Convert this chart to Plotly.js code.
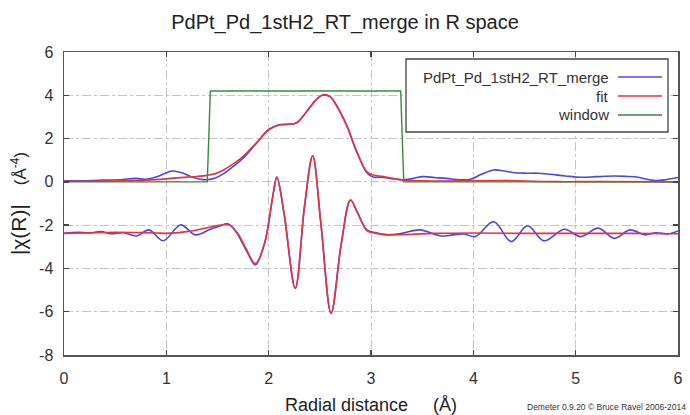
<!DOCTYPE html>
<html>
<head>
<meta charset="utf-8">
<script src="https://cdn.plot.ly/plotly-3.0.1.min.js"></script>
<style>html,body{margin:0;padding:0;background:#fff;}#chart{width:690px;height:415px;}</style>
</head>
<body>
<div id="chart"></div>
<script>
// ---- data ----
const seriesNames = ["PdPt_Pd_1stH2_RT_merge", "fit", "window"];

// |chi(R)| of the data
const magDataR = [0.0,0.2,0.4,0.55,0.7,0.8,0.9,1.0,1.06,1.15,1.25,1.33,1.40,1.48,1.56,1.65,1.75,1.875,2.0,2.10,2.20,2.27,2.37,2.46,2.53,2.60,2.66,2.76,2.86,2.96,3.02,3.10,3.20,3.31,3.40,3.51,3.62,3.74,3.87,3.97,4.08,4.20,4.30,4.40,4.52,4.63,4.75,4.90,5.05,5.20,5.38,5.50,5.61,5.70,5.78,5.88,6.0];
const magDataY = [0.05,0.05,0.08,0.10,0.16,0.12,0.22,0.42,0.50,0.42,0.22,0.12,0.10,0.18,0.38,0.70,1.10,1.75,2.40,2.63,2.66,2.72,3.24,3.78,4.01,3.94,3.55,2.63,1.40,0.42,0.22,0.22,0.15,0.09,0.15,0.24,0.20,0.16,0.10,0.12,0.35,0.55,0.50,0.42,0.40,0.40,0.35,0.27,0.21,0.24,0.27,0.25,0.21,0.12,0.06,0.10,0.20];

// |chi(R)| of the fit
const magFitR = [0.0,0.3,0.6,0.8,1.0,1.2,1.3,1.40,1.48,1.56,1.65,1.75,1.875,2.0,2.10,2.20,2.27,2.37,2.46,2.53,2.60,2.66,2.76,2.86,2.96,3.02,3.12,3.25,3.35,3.5,3.7,4.0,4.3,4.5,4.8,5.2,6.0];
const magFitY = [0.03,0.03,0.05,0.08,0.14,0.22,0.25,0.30,0.38,0.55,0.82,1.18,1.78,2.42,2.64,2.66,2.72,3.24,3.78,4.01,3.94,3.55,2.63,1.40,0.46,0.32,0.25,0.13,0.07,0.05,0.04,0.05,0.06,0.04,0.01,0.01,0.0];

// Re[chi(R)] of the data (offset)
const reDataR = [0.0,0.14,0.25,0.36,0.46,0.58,0.71,0.83,0.97,1.14,1.285,1.43,1.52,1.60,1.68,1.78,1.87,1.96,2.04,2.08,2.15,2.26,2.35,2.43,2.51,2.61,2.71,2.80,2.87,2.96,3.05,3.15,3.30,3.48,3.68,3.80,3.91,4.02,4.20,4.37,4.53,4.69,4.89,5.05,5.22,5.38,5.53,5.68,5.78,5.91,6.0];
const reDataY = [-2.38,-2.33,-2.36,-2.30,-2.40,-2.35,-2.50,-2.22,-2.72,-1.99,-2.45,-2.19,-2.05,-1.94,-2.30,-3.15,-3.84,-2.84,-0.68,0.22,-1.45,-4.92,-1.14,1.20,-1.91,-6.07,-2.84,-0.84,-1.45,-2.22,-2.35,-2.45,-2.38,-2.22,-2.50,-2.45,-2.41,-2.53,-1.84,-2.76,-2.03,-2.72,-2.19,-2.53,-2.14,-2.61,-2.22,-2.45,-2.35,-2.41,-2.27];

// Re[chi(R)] of the fit (offset)
const reFitR = [0.0,0.3,0.5,0.7,0.9,1.0,1.2,1.4,1.55,1.62,1.70,1.78,1.87,1.96,2.04,2.08,2.15,2.26,2.35,2.43,2.51,2.61,2.71,2.80,2.87,2.96,3.05,3.20,3.40,3.6,4.0,4.5,5.0,5.5,6.0];
const reFitY = [-2.38,-2.35,-2.33,-2.34,-2.36,-2.38,-2.30,-2.12,-1.98,-2.00,-2.40,-3.10,-3.78,-2.84,-0.68,0.22,-1.45,-4.92,-1.14,1.20,-1.91,-6.07,-2.84,-0.84,-1.45,-2.25,-2.38,-2.45,-2.42,-2.38,-2.36,-2.38,-2.38,-2.38,-2.40];

// Fourier-transform window
const windowR = [0, 1.40, 1.43, 3.29, 3.32, 6];
const windowY = [0, 0, 4.2, 4.2, 0, 0];

// axis ticks
const xTickVals = [0,1,2,3,4,5,6];
const yTickVals = [-8,-6,-4,-2,0,2,4,6];
const yTickText = ["-8","-6","-4","-2","0","2","4","6"];

// ---- styles ----
const blue = "#4848e8", red = "#e8323c", green = "#3a8a3a";
const lineW = 1.6;

const traces = [
  {x: magDataR, y: magDataY, mode: "lines", line: {color: blue, width: lineW, shape: "spline", smoothing: 1}, name: seriesNames[0], showlegend: false},
  {x: reDataR, y: reDataY, mode: "lines", line: {color: blue, width: lineW, shape: "spline", smoothing: 1}, showlegend: false},
  {x: magFitR, y: magFitY, mode: "lines", line: {color: red, width: lineW, shape: "spline", smoothing: 1}, name: seriesNames[1], showlegend: false},
  {x: reFitR, y: reFitY, mode: "lines", line: {color: red, width: lineW, shape: "spline", smoothing: 1}, showlegend: false},
  {x: windowR, y: windowY, mode: "lines", line: {color: green, width: 1.4}, name: seriesNames[2], showlegend: false}
];

// custom legend (text right-aligned, line sample on the right)
const legendColors = [blue, red, green];
const legX0 = 406, legX1 = 668, legY0 = 59, legY1 = 132;
const L = 64, R = 678, T = 52, B = 355;
const px2x = p => (p - L) / (R - L);
const py2y = p => 1 - (p - T) / (B - T);
const rowY = [77, 96, 115];

const shapes = [
  {type: "rect", xref: "paper", yref: "paper", x0: px2x(legX0), x1: px2x(legX1), y0: py2y(legY1), y1: py2y(legY0),
   line: {color: "#444", width: 1.3}, fillcolor: "#fff", layer: "above"}
];
const annotations = [];
seriesNames.forEach((n, i) => {
  shapes.push({type: "line", xref: "paper", yref: "paper", x0: px2x(618), x1: px2x(662), y0: py2y(rowY[i]), y1: py2y(rowY[i]),
    line: {color: legendColors[i], width: 1.6}, layer: "above"});
  annotations.push({xref: "paper", yref: "paper", x: px2x(611), y: py2y(rowY[i]), xanchor: "right", yanchor: "middle",
    text: n, showarrow: false, font: {family: "Liberation Sans, Arial, sans-serif", size: 15, color: "#333"}});
});
annotations.push({xref: "paper", yref: "paper", x: px2x(688), y: py2y(407), xanchor: "right", yanchor: "middle",
  text: "Demeter 0.9.20 © Bruce Ravel 2006-2014", showarrow: false,
  font: {family: "Liberation Sans, Arial, sans-serif", size: 8.5, color: "#333"}});

const axisCommon = {
  showline: true, linecolor: "#555", linewidth: 1.5, mirror: "ticks",
  ticks: "inside", ticklen: 5, tickwidth: 1.3, tickcolor: "#444",
  showgrid: true, gridcolor: "#c4c4c4", gridwidth: 1, griddash: "dashdot",
  zeroline: false,
  tickfont: {family: "Liberation Sans, Arial, sans-serif", size: 16, color: "#333"}
};

const layout = {
  width: 690, height: 415,
  margin: {l: L, r: 690 - R, t: T, b: 415 - B},
  paper_bgcolor: "#fff", plot_bgcolor: "#fff",
  showlegend: false,
  title: {text: "PdPt_Pd_1stH2_RT_merge in R space", x: 0.5, xref: "container", y: 1 - 22/415, yref: "container",
          xanchor: "center", yanchor: "middle",
          font: {family: "Liberation Sans, Arial, sans-serif", size: 20, color: "#222"}},
  xaxis: Object.assign({}, axisCommon, {
    range: [0, 6], tickvals: xTickVals, ticklabelstandoff: 8,
    title: {text: "Radial distance\u00a0\u00a0\u00a0\u00a0\u00a0(Å)", standoff: 12,
            font: {family: "Liberation Sans, Arial, sans-serif", size: 18, color: "#222"}}
  }),
  yaxis: Object.assign({}, axisCommon, {
    range: [-8, 6], tickvals: yTickVals, ticktext: yTickText, ticklabelstandoff: 6,
    title: {text: "<span style='font-size:21px'>|χ(R)|</span>\u00a0\u00a0\u00a0\u00a0(Å<sup>-4</sup>)", standoff: 8,
            font: {family: "Liberation Sans, Arial, sans-serif", size: 17, color: "#222"}}
  }),
  shapes: shapes,
  annotations: annotations
};

Plotly.newPlot("chart", traces, layout, {displayModeBar: false, staticPlot: true});
</script>
</body>
</html>
